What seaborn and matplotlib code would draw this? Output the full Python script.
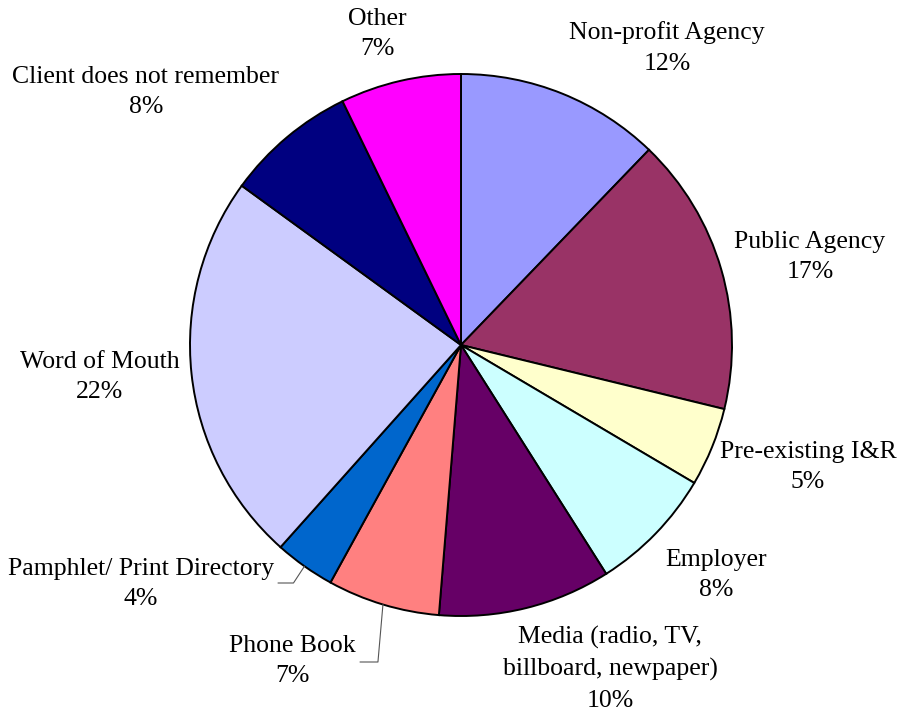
import numpy as np
import matplotlib
matplotlib.use("Agg")
import matplotlib.pyplot as plt
import seaborn as sns

# --- Datos ---
categories = ["Non-profit Agency", "Public Agency", "Pre-existing I&R", "Employer",
              "Media (radio, TV,\nbillboard, newpaper)", "Phone Book",
              "Pamphlet/ Print Directory", "Word of Mouth",
              "Client does not remember", "Other"]
shares = [12.2, 16.6, 4.7, 7.5, 10.3, 6.7, 3.6, 23.4, 7.8, 7.2]
pct_labels = ["12%", "17%", "5%", "8%", "10%", "7%", "4%", "22%", "8%", "7%"]
colors = ["#9999FF", "#993366", "#FFFFCC", "#CCFFFF", "#660066",
          "#FF8080", "#0066CC", "#CCCCFF", "#000080", "#FF00FF"]

# --- Layout (pixeles de la imagen, y hacia abajo) ---
W, H = 904, 715
CX, CY, R = 461, 345, 271
label_pos = [(667, 48), (810, 257), (808, 467), (716, 575), (610, 669),
             (292, 661), (141, 584), (100, 377), (146, 92), (377, 34)]
leaders = {6: (583, 278), 5: (662, 360)}  # indice -> (y del codo, x final)

sns.set_theme(style="white")
plt.rcParams["font.family"] = ["Liberation Serif", "DejaVu Serif"]

fig = plt.figure(figsize=(W / 100, H / 100), dpi=100)
ax = fig.add_axes([0, 0, 1, 1])

wedges, _ = ax.pie(shares, colors=colors, startangle=90, counterclock=False,
                   center=(CX, H - CY), radius=R,
                   wedgeprops=dict(edgecolor="black", linewidth=1.4))

# pie() fija sus propios limites: redefinirlos despues
ax.set_xlim(0, W)
ax.set_ylim(0, H)
ax.set_aspect("equal")
ax.axis("off")

for i, (name, pct) in enumerate(zip(categories, pct_labels)):
    x, y = label_pos[i]
    ax.text(x, H - y, f"{name}\n{pct}", ha="center", va="center",
            fontsize=18.5, color="black", linespacing=1.52)

# Lineas guia para las porciones pequenas
for i, (yk, xe) in leaders.items():
    w = wedges[i]
    mid = np.deg2rad((w.theta1 + w.theta2) / 2)
    x0 = CX + R * np.cos(mid)
    y0 = (H - CY) + R * np.sin(mid)
    dx = -5 if i == 5 else -11
    ax.plot([x0, x0 + dx, xe], [y0, H - yk, H - yk],
            color="#555555", linewidth=0.8)

fig.savefig("out.png", dpi=100)
